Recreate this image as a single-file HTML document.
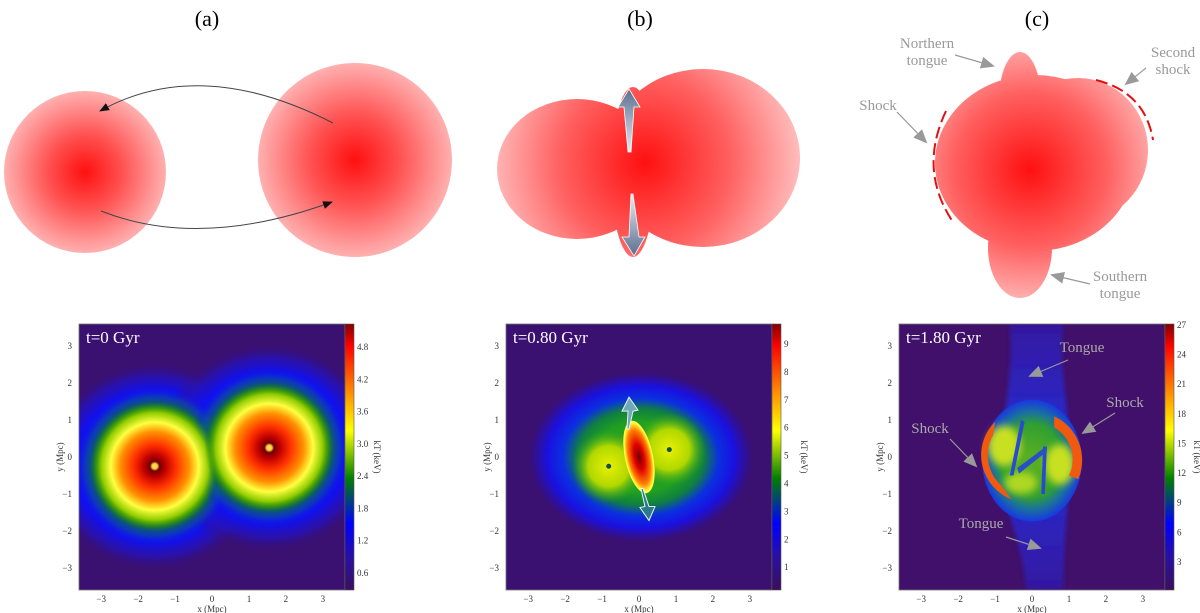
<!DOCTYPE html>
<html><head><meta charset="utf-8"><style>
html,body{margin:0;padding:0;background:#fff;width:1200px;height:613px;overflow:hidden}
svg{display:block}
text{font-family:"Liberation Serif",serif}
</style></head><body>
<svg id="fig" width="1200" height="613" viewBox="0 0 1200 613" xmlns="http://www.w3.org/2000/svg">
<defs>
<radialGradient id="pinkA"><stop offset="0" stop-color="#ff1010"/><stop offset="0.45" stop-color="#ff5050"/><stop offset="1" stop-color="#ffb0b0"/></radialGradient>
<radialGradient id="pinkBig" gradientUnits="userSpaceOnUse" cx="645" cy="163" r="170"><stop offset="0" stop-color="#ff1010"/><stop offset="0.5" stop-color="#ff6060"/><stop offset="1" stop-color="#ffd0d0"/></radialGradient>
<radialGradient id="pinkC" gradientUnits="userSpaceOnUse" cx="1030" cy="170" r="140"><stop offset="0" stop-color="#ff1010"/><stop offset="0.55" stop-color="#ff6060"/><stop offset="1" stop-color="#ffc0c0"/></radialGradient>
<linearGradient id="cmap" x1="0" y1="1" x2="0" y2="0">
<stop offset="0" stop-color="#3a0f5a"/><stop offset="0.12" stop-color="#2a10a0"/><stop offset="0.25" stop-color="#0000ff"/><stop offset="0.42" stop-color="#008000"/><stop offset="0.6" stop-color="#ffff00"/><stop offset="0.8" stop-color="#ff6000"/><stop offset="0.92" stop-color="#ff0000"/><stop offset="1" stop-color="#800000"/></linearGradient>
<radialGradient id="blueA">
<stop offset="0" stop-color="#1010f0"/><stop offset="0.72" stop-color="#1010f0"/><stop offset="0.86" stop-color="#2412c0" stop-opacity="0.7"/><stop offset="1" stop-color="#3a1070" stop-opacity="0"/></radialGradient>
<radialGradient id="greenA">
<stop offset="0" stop-color="#108010"/><stop offset="0.72" stop-color="#108010"/><stop offset="0.88" stop-color="#0a50a0" stop-opacity="0.6"/><stop offset="1" stop-color="#1010f0" stop-opacity="0"/></radialGradient>
<radialGradient id="coreA">
<stop offset="0" stop-color="#ffe060"/><stop offset="0.04" stop-color="#ffd040"/><stop offset="0.075" stop-color="#700000"/><stop offset="0.17" stop-color="#c00000"/><stop offset="0.33" stop-color="#ff3000"/><stop offset="0.53" stop-color="#ff9000"/><stop offset="0.68" stop-color="#ffff40"/><stop offset="0.83" stop-color="#90cc00"/><stop offset="1" stop-color="#108010" stop-opacity="0"/></radialGradient>
<radialGradient id="haloB">
<stop offset="0" stop-color="#30a020"/><stop offset="0.4" stop-color="#20a020"/><stop offset="0.55" stop-color="#108040"/><stop offset="0.68" stop-color="#0a30e0"/><stop offset="0.82" stop-color="#1a10e0"/><stop offset="0.92" stop-color="#2a10b0" stop-opacity="0.6"/><stop offset="1" stop-color="#3a1070" stop-opacity="0"/></radialGradient>
<radialGradient id="coreB"><stop offset="0" stop-color="#700000"/><stop offset="0.35" stop-color="#e00000"/><stop offset="0.75" stop-color="#ff8000"/><stop offset="0.95" stop-color="#ffff40"/><stop offset="1" stop-color="#ffff40"/></radialGradient>
<radialGradient id="ygB"><stop offset="0" stop-color="#e8f000"/><stop offset="0.55" stop-color="#b0d800"/><stop offset="1" stop-color="#30a020" stop-opacity="0"/></radialGradient>
<radialGradient id="blobC"><stop offset="0" stop-color="#60b020"/><stop offset="0.6" stop-color="#30a030"/><stop offset="0.8" stop-color="#1a70a0"/><stop offset="1" stop-color="#1838e0"/></radialGradient>
<linearGradient id="bandC" x1="0" y1="0" x2="0" y2="1"><stop offset="0" stop-color="#3418a0"/><stop offset="0.35" stop-color="#2a28c8"/><stop offset="0.65" stop-color="#2a28c8"/><stop offset="1" stop-color="#3418a0"/></linearGradient>
<linearGradient id="arrG" x1="0" y1="0" x2="0" y2="1"><stop offset="0" stop-color="#5a6f90"/><stop offset="1" stop-color="#e8ecf4"/></linearGradient>
<linearGradient id="arrG2" x1="0" y1="1" x2="0" y2="0"><stop offset="0" stop-color="#5a6f90"/><stop offset="1" stop-color="#e8ecf4"/></linearGradient>
<filter id="b2" x="-50%" y="-50%" width="200%" height="200%"><feGaussianBlur stdDeviation="2"/></filter>
<filter id="b4" x="-50%" y="-50%" width="200%" height="200%"><feGaussianBlur stdDeviation="4"/></filter>
<marker id="ah" markerWidth="10" markerHeight="8" refX="9" refY="4" orient="auto" markerUnits="userSpaceOnUse"><path d="M0,0 L10,4 L0,8 Z" fill="#111"/></marker>
<marker id="gh" markerWidth="14" markerHeight="12" refX="12" refY="6" orient="auto" markerUnits="userSpaceOnUse"><path d="M0,0 L14,6 L0,12 Z" fill="#999"/></marker>
<clipPath id="clipA"><rect x="79" y="324" width="266" height="266"/></clipPath>
<clipPath id="clipB"><rect x="506" y="324" width="266" height="266"/></clipPath>
<clipPath id="clipC"><rect x="899" y="324" width="266" height="266"/></clipPath>
</defs>

<text x="207" y="26" font-size="22" text-anchor="middle">(a)</text>
<text x="640" y="26" font-size="22" text-anchor="middle">(b)</text>
<text x="1037" y="26" font-size="22" text-anchor="middle">(c)</text>

<g>
<circle cx="85" cy="172" r="81" fill="url(#pinkA)"/>
<circle cx="355" cy="160" r="97" fill="url(#pinkA)"/>
<path d="M333,123 Q200,55 100,111" fill="none" stroke="#444" stroke-width="1" marker-end="url(#ah)"/>
<path d="M101,211 Q200,250 332,202" fill="none" stroke="#444" stroke-width="1" marker-end="url(#ah)"/>
</g>

<g>
<g fill="url(#pinkBig)">
<ellipse cx="577" cy="169" rx="80" ry="70"/>
<ellipse cx="703" cy="158" rx="97" ry="89"/>
<ellipse cx="633" cy="172" rx="22" ry="85"/>
</g>
<path d="M629,89 L640,107 L634,107 L631,152 L628,152 L624,107 L618,107 Z" fill="url(#arrG)" stroke="#fff" stroke-width="0.8"/>
<path d="M634,256 L645,237 L639,237 L633,194 L631,194 L629,237 L622,237 Z" fill="url(#arrG2)" stroke="#fff" stroke-width="0.8"/>
</g>

<g>
<g fill="url(#pinkC)">
<ellipse cx="1020" cy="100" rx="21" ry="48"/>
<ellipse cx="1020" cy="248" rx="32" ry="50"/>
<ellipse cx="1035" cy="163" rx="100" ry="88"/>
<ellipse cx="1078" cy="150" rx="70" ry="72"/>
</g>
<path d="M946,111 Q918,170 953,222" fill="none" stroke="#e01010" stroke-width="2" stroke-dasharray="12,5"/>
<path d="M1096,80 Q1145,92 1153,140" fill="none" stroke="#e01010" stroke-width="2" stroke-dasharray="12,5"/>
<g fill="#999" font-size="15" text-anchor="middle">
<text x="927" y="48"><tspan x="927">Northern</tspan><tspan x="927" dy="17">tongue</tspan></text>
<text x="1173" y="57"><tspan x="1173">Second</tspan><tspan x="1173" dy="17">shock</tspan></text>
<text x="878" y="110">Shock</text>
<text x="1120" y="281"><tspan x="1120">Southern</tspan><tspan x="1120" dy="17">tongue</tspan></text>
</g>
<g stroke="#999" stroke-width="1.2" fill="none" marker-end="url(#gh)">
<line x1="955" y1="55" x2="993" y2="66"/>
<line x1="1146" y1="68" x2="1126" y2="84"/>
<line x1="897" y1="112" x2="926" y2="142"/>
<line x1="1090" y1="284" x2="1052" y2="275"/>
</g>
</g>

<g id="bottom"></g>
</svg>
<script>
// ---- data ----
var xTicks = [-3,-2,-1,0,1,2,3];
var yTicks = [3,2,1,0,-1,-2,-3];
var panelX0 = [79,506,899];
var timeLabels = ["t=0 Gyr","t=0.80 Gyr","t=1.80 Gyr"];
var cbTicksA = [0.6,1.2,1.8,2.4,3.0,3.6,4.2,4.8];
var cbTicksB = [1,2,3,4,5,6,7,8,9];
var cbTicksC = [3,6,9,12,15,18,21,24,27];
var cbRangeA = [0.28,5.23];
var cbRangeB = [0.18,9.72];
var cbRangeC = [0.16,27.1];
var clustersA_x = [-1.55,1.55];
var clustersA_y = [-0.25,0.25];
var clustersB_x = [-0.82,0.82];
var clustersB_y = [-0.25,0.2];

var NS="http://www.w3.org/2000/svg";
var root=document.getElementById('bottom');
var Y0=324,H=266,W=266,S=W/7.2;
function mk(tag,attrs,parent){var e=document.createElementNS(NS,tag);for(var k in attrs)e.setAttribute(k,attrs[k]);(parent||root).appendChild(e);return e;}
function sx(p,v){return panelX0[p]+W/2+v*S;}
function sy(v){return Y0+H/2-v*S;}

function drawPanel(p,cbTicks,cbRange,body){
  var x0=panelX0[p];
  var g=mk('g',{'clip-path':'url(#clip'+'ABC'[p]+')'});
  
  
  body(g,p);
  var fr=mk('rect',{x:x0,y:Y0,width:W,height:H,fill:'none',stroke:'#777','stroke-width':0.8});
  
  
  var tl=mk('text',{x:x0+7,y:Y0+19,'font-size':17,fill:'#fff'});
  tl.textContent=timeLabels[p];
  
  
  xTicks.forEach(function(v){
    var t=mk('text',{x:sx(p,v),y:Y0+H+12,'font-size':9,'text-anchor':'middle',fill:'#333'});
    t.textContent=(v<0?'\u2212'+(-v):v);
    
    
  });
  yTicks.forEach(function(v){
    var t=mk('text',{x:x0-7,y:sy(v)+3,'font-size':9,'text-anchor':'end',fill:'#333'});
    t.textContent=(v<0?'\u2212'+(-v):v);
    
    
  });
  var xl=mk('text',{x:x0+W/2,y:Y0+H+22,'font-size':9,'text-anchor':'middle',fill:'#333'});
  xl.textContent='x (Mpc)';
  
  
  var yl=mk('text',{x:0,y:0,'font-size':9,'text-anchor':'middle',fill:'#333',transform:'translate('+(x0-16)+','+(Y0+H/2)+') rotate(-90)'});
  yl.textContent='y (Mpc)';
  
  
  var cx=x0+W;
  var cb=mk('rect',{x:cx,y:Y0,width:9,height:H,fill:'url(#cmap)',stroke:'#555','stroke-width':0.6});
  
  
  cbTicks.forEach(function(v){
    var yy=Y0+H-(v-cbRange[0])/(cbRange[1]-cbRange[0])*H;
    var t=mk('text',{x:cx+12,y:yy+3,'font-size':9,fill:'#333'});
    t.textContent=(p===0?v.toFixed(1):v);
    
    
  });
  var kl=mk('text',{x:0,y:0,'font-size':9,'text-anchor':'middle',fill:'#333',transform:'translate('+(cx+29)+','+(Y0+H/2)+') rotate(90)'});
  kl.textContent='kT (keV)';
  
  
}

drawPanel(0,cbTicksA,cbRangeA,function(g,p){
  mk('rect',{x:panelX0[p],y:Y0,width:W,height:H,fill:'#3a1070'},g);
  clustersA_x.forEach(function(cx,i){
    var c=mk('ellipse',{cx:sx(p,cx),cy:sy(clustersA_y[i]),rx:3.0*S,ry:2.85*S,fill:'url(#blueA)'},g);
    
    
  });
  clustersA_x.forEach(function(cx,i){
    var c=mk('circle',{cx:sx(p,cx),cy:sy(clustersA_y[i]),r:2.15*S,fill:'url(#greenA)'},g);
    
    
  });
  clustersA_x.forEach(function(cx,i){
    var c=mk('circle',{cx:sx(p,cx),cy:sy(clustersA_y[i]),r:1.75*S,fill:'url(#coreA)'},g);
    
    
  });
});

drawPanel(1,cbTicksB,cbRangeB,function(g,p){
  mk('rect',{x:panelX0[p],y:Y0,width:W,height:H,fill:'#3a1070'},g);
  mk('ellipse',{cx:sx(p,0.05),cy:sy(0),rx:3.1*S,ry:2.35*S,fill:'url(#haloB)'},g);
  clustersB_x.forEach(function(cx,i){
    mk('circle',{cx:sx(p,cx),cy:sy(clustersB_y[i]),r:1.0*S,fill:'url(#ygB)'},g);
    var d=mk('circle',{cx:sx(p,cx),cy:sy(clustersB_y[i]),r:2.5,fill:'#0a5050'},g);
    
    
  });
  var e=mk('ellipse',{cx:sx(p,0),cy:sy(0),rx:0.38*S,ry:1.0*S,fill:'url(#coreB)',transform:'rotate(-12 '+sx(p,0)+' '+sy(0)+')'},g);
  
  
  var a1=mk('path',{d:'M'+sx(p,-0.27)+','+sy(1.62)+' l9,13 l-5,1 l-4,18 l-2,0 l1,-18 l-6,0 Z',fill:'#6fa8b8',stroke:'#e8f4f8','stroke-width':1},g);
  
  
  var a2=mk('path',{d:'M'+sx(p,0.27)+','+sy(-1.72)+' l-9,-13 l5,-1 l-4,-18 l2,0 l6,18 l6,0 Z',fill:'#2a7a8a',stroke:'#e8f4f8','stroke-width':1},g);
  
  
});

drawPanel(2,cbTicksC,cbRangeC,function(g,p){
  mk('rect',{x:panelX0[p],y:Y0,width:W,height:H,fill:'#40106a'},g);
  var band=mk('path',{d:'M'+sx(p,-0.6)+','+sy(3.6)+' C'+sx(p,-0.5)+','+sy(2.5)+' '+sx(p,-0.7)+','+sy(1.5)+' '+sx(p,-0.9)+','+sy(0)+' C'+sx(p,-0.8)+','+sy(-1.5)+' '+sx(p,-0.3)+','+sy(-2)+' '+sx(p,-0.15)+','+sy(-3.6)+' L'+sx(p,0.85)+','+sy(-3.6)+' C'+sx(p,0.85)+','+sy(-2)+' '+sx(p,1.0)+','+sy(-1.5)+' '+sx(p,1.0)+','+sy(0)+' C'+sx(p,1.0)+','+sy(1.5)+' '+sx(p,0.7)+','+sy(2.5)+' '+sx(p,0.85)+','+sy(3.6)+' Z',fill:'url(#bandC)',filter:'url(#b2)'},g);
  
  
  var bl=mk('ellipse',{cx:sx(p,0),cy:sy(-0.1),rx:1.35*S,ry:1.65*S,fill:'url(#blobC)'},g);
  
  
  mk('ellipse',{cx:sx(p,-0.75),cy:sy(0.3),rx:0.45*S,ry:0.55*S,fill:'#c8e020',filter:'url(#b4)'},g);
  mk('ellipse',{cx:sx(p,0.75),cy:sy(-0.2),rx:0.4*S,ry:0.55*S,fill:'#c8e020',filter:'url(#b4)'},g);
  mk('ellipse',{cx:sx(p,-0.3),cy:sy(-0.7),rx:0.45*S,ry:0.3*S,fill:'#b0d820',filter:'url(#b4)'},g);
  var lc=mk('path',{d:'M'+sx(p,-1.0)+','+sy(0.95)+' A'+(1.35*S)+','+(1.3*S)+' 0 0 0 '+sx(p,-0.55)+','+sy(-1.15)+' L'+sx(p,-0.85)+','+sy(-0.75)+' A'+(1.1*S)+','+(1.1*S)+' 0 0 1 '+sx(p,-1.05)+','+sy(0.6)+' Z',fill:'#f05a10'},g);
  
  
  var rc=mk('path',{d:'M'+sx(p,0.6)+','+sy(1.1)+' A'+(1.3*S)+','+(1.3*S)+' 0 0 1 '+sx(p,1.25)+','+sy(-0.6)+' L'+sx(p,1.0)+','+sy(-0.5)+' A'+(1.0*S)+','+(1.0*S)+' 0 0 0 '+sx(p,0.6)+','+sy(0.8)+' Z',fill:'#f05a10'},g);
  
  
  mk('path',{d:'M'+sx(p,-0.3)+','+sy(1.0)+' L'+sx(p,-0.6)+','+sy(-0.5)+' L'+sx(p,-0.5)+','+sy(-0.5)+' L'+sx(p,-0.2)+','+sy(0.95)+' Z',fill:'#2a4ad0'},g);
  mk('path',{d:'M'+sx(p,0.4)+','+sy(0.25)+' L'+sx(p,0.35)+','+sy(-1.0)+' L'+sx(p,0.25)+','+sy(-1.0)+' L'+sx(p,0.3)+','+sy(0.3)+' Z',fill:'#2a4ad0'},g);
  mk('path',{d:'M'+sx(p,-0.4)+','+sy(-0.3)+' L'+sx(p,0.4)+','+sy(0.3)+' L'+sx(p,0.4)+','+sy(0.15)+' L'+sx(p,-0.35)+','+sy(-0.45)+' Z',fill:'#2a50c8'},g);
  var labels=[['Tongue',1082,352,1068,360,1030,376],['Shock',1125,407,1115,413,1083,433],['Shock',930,433,950,439,976,466],['Tongue',981,528,1006,537,1040,548]];
  labels.forEach(function(L){
    var t=mk('text',{x:L[1],y:L[2],'font-size':15,'text-anchor':'middle',fill:'#aaa'},g);
    t.textContent=L[0];
    
    
    var a=mk('line',{x1:L[3],y1:L[4],x2:L[5],y2:L[6],stroke:'#999','stroke-width':1.2,'marker-end':'url(#gh)'},g);
    
    
  });
});
</script>
</body></html>
